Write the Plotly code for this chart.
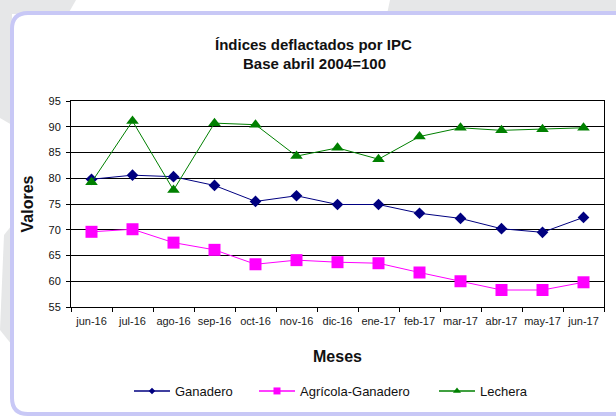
import plotly.graph_objects as go

meses = ["jun-16", "jul-16", "ago-16", "sep-16", "oct-16", "nov-16", "dic-16",
         "ene-17", "feb-17", "mar-17", "abr-17", "may-17", "jun-17"]
ganadero = [79.8, 80.6, 80.3, 78.6, 75.5, 76.6, 74.9, 74.9, 73.2, 72.2, 70.2, 69.5, 72.4]
agricola_ganadero = [69.6, 70.1, 67.5, 66.1, 63.3, 64.1, 63.7, 63.5, 61.7, 60.0, 58.3, 58.3, 59.8]
lechera = [79.2, 91.1, 77.7, 90.7, 90.4, 84.3, 85.9, 83.7, 88.1, 89.8, 89.3, 89.5, 89.8]
y_ticks = [55, 60, 65, 70, 75, 80, 85, 90, 95]

FONT = "Liberation Sans, Arial, sans-serif"

W, H = 616, 418
ML, MR, MT, MB = 71, 12, 101, 111
PW, PH = W - ML - MR, H - MT - MB


def px(x):
    return (x - ML) / PW


def py(y):
    return (H - MB - y) / PH


# name, values, colour, symbol, marker size, legend marker size, legend id, legend line start (px)
series = [
    ("Ganadero", ganadero, "#000080", "diamond", 9, 5, "legend", 134),
    ("Agrícola-Ganadero", agricola_ganadero, "#ff00ff", "square", 12, 7, "legend2", 259),
    ("Lechera", lechera, "#008000", "triangle-up", 11, 7, "legend3", 439),
]

fig = go.Figure()
for name, vals, col, sym, size, lsize, lg, lx in series:
    fig.add_trace(go.Scatter(x=meses, y=vals, name=name, mode="lines+markers",
                             showlegend=False,
                             line=dict(color=col, width=1),
                             marker=dict(symbol=sym, size=size, color=col)))
for name, vals, col, sym, size, lsize, lg, lx in series:
    fig.add_trace(go.Scatter(x=[None], y=[None], name=name, mode="lines+markers",
                             showlegend=True, legend=lg,
                             line=dict(color=col, width=1.5),
                             marker=dict(symbol=sym, size=lsize, color=col)))


def rounded_rect(x0, y0, x1, y1, r):
    return (f"M {px(x0)} {py(y0 + r)} Q {px(x0)} {py(y0)} {px(x0 + r)} {py(y0)} "
            f"L {px(x1 - r)} {py(y0)} Q {px(x1)} {py(y0)} {px(x1)} {py(y0 + r)} "
            f"L {px(x1)} {py(y1 - r)} Q {px(x1)} {py(y1)} {px(x1 - r)} {py(y1)} "
            f"L {px(x0 + r)} {py(y1)} Q {px(x0)} {py(y1)} {px(x0)} {py(y1 - r)} Z")


def poly(points):
    return "M " + " L ".join(f"{px(a)} {py(b)}" for a, b in points) + " Z"


GRAY = "#e6e7e8"
shapes = [
    dict(type="path", xref="paper", yref="paper", layer="below",
         path=poly([(0, 0), (76, 0), (68, 14), (0, 14)]), fillcolor=GRAY, line=dict(width=0)),
    dict(type="path", xref="paper", yref="paper", layer="below",
         path=poly([(390, 0), (616, 0), (616, 14), (387, 14)]), fillcolor=GRAY, line=dict(width=0)),
    dict(type="path", xref="paper", yref="paper", layer="below",
         path=poly([(0, 0), (12, 0), (12, 125), (0, 118)]), fillcolor=GRAY, line=dict(width=0)),
    dict(type="path", xref="paper", yref="paper", layer="below",
         path=poly([(4, 235), (12, 225), (12, 345), (0, 330)]), fillcolor=GRAY, line=dict(width=0)),
    dict(type="path", xref="paper", yref="paper", layer="below",
         path=rounded_rect(12, 13, 630, 414, 16),
         fillcolor="white", line=dict(color="#c8c8f6", width=4)),
]

legend_common = dict(orientation="h", xanchor="left", yanchor="middle", y=py(391),
                     font=dict(size=13, family=FONT, color="#111111"),
                     bgcolor="rgba(0,0,0,0)", itemwidth=36, borderwidth=0)

fig.update_layout(
    width=W, height=H,
    margin=dict(l=ML, r=MR, t=MT, b=MB, autoexpand=False),
    paper_bgcolor="white",
    plot_bgcolor="white",
    font=dict(family=FONT, color="#111111"),
    showlegend=True,
    legend=dict(legend_common, x=px(series[0][7] - 5)),
    legend2=dict(legend_common, x=px(series[1][7] - 5)),
    legend3=dict(legend_common, x=px(series[2][7] - 5)),
    xaxis=dict(type="category", range=[-0.5, len(meses) - 0.5],
               tickson="boundaries", ticks="outside", ticklen=4,
               tickangle=0, automargin=False, ticklabelstandoff=4,
               tickcolor="black", linecolor="black", linewidth=1, mirror=True,
               showgrid=False, tickfont=dict(size=11, family=FONT, color="#1a1a1a"),
               title=dict(text="<b>Meses</b>", font=dict(size=16, family=FONT), standoff=24)),
    yaxis=dict(range=[55, 95], tickvals=y_ticks, ticks="outside", ticklen=4,
               automargin=False, ticklabelstandoff=3,
               tickcolor="black", linecolor="black", linewidth=1, mirror=True,
               showgrid=True, gridcolor="black", gridwidth=1, zeroline=False,
               tickfont=dict(size=11, family=FONT, color="#111111"),
               title=dict(text="<b>Valores</b>", font=dict(size=16, family=FONT), standoff=10)),
    shapes=shapes,
    annotations=[
        dict(text="<b>Índices deflactados por IPC</b>", xref="paper", yref="paper",
             x=px(313), y=py(45), xanchor="center", yanchor="middle", showarrow=False,
             font=dict(size=15, family=FONT, color="#111111")),
        dict(text="<b>Base abril 2004=100</b>", xref="paper", yref="paper",
             x=px(314), y=py(63), xanchor="center", yanchor="middle", showarrow=False,
             font=dict(size=15, family=FONT, color="#111111")),
    ],
)

fig.write_html("out.html", config={"displayModeBar": False},
               post_script="document.body.style.margin='0px';")
